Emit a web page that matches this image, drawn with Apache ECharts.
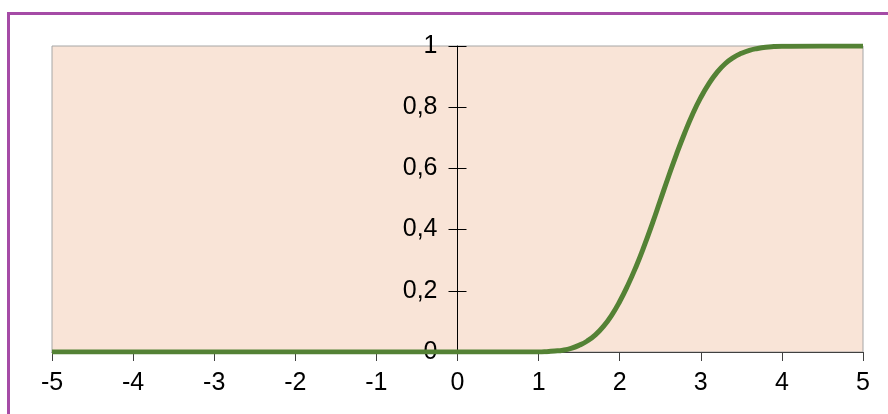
<!DOCTYPE html>
<html>
<head>
<meta charset="utf-8">
<script src="https://cdn.jsdelivr.net/npm/echarts@6/dist/echarts.min.js"></script>
<style>
html,body{margin:0;padding:0;background:#fff;}
#chart{width:888px;height:414px;}
</style>
</head>
<body>
<div id="chart"></div>
<script>
// Data
const xValues = [-5, -4, -3, -2, -1, 0, 1.0, 1.1, 1.2, 1.3, 1.4, 1.5, 1.6, 1.7, 1.8, 1.9, 2.0, 2.1, 2.2, 2.3, 2.4, 2.5, 2.6, 2.7, 2.8, 2.9, 3.0, 3.1, 3.2, 3.3, 3.4, 3.5, 3.6, 3.7, 3.8, 3.9, 4.0, 4.5, 5];
const yValues = [0, 0, 0, 0, 0, 0, 0.000, 0.001, 0.003, 0.006, 0.012, 0.022, 0.036, 0.056, 0.084, 0.120, 0.165, 0.218, 0.278, 0.345, 0.418, 0.495, 0.572, 0.646, 0.715, 0.778, 0.832, 0.877, 0.914, 0.942, 0.962, 0.976, 0.986, 0.992, 0.996, 0.998, 0.999, 1, 1];
const xTicks = [-5, -4, -3, -2, -1, 0, 1, 2, 3, 4, 5];
const yTicks = [0, 0.2, 0.4, 0.6, 0.8, 1];

const gridLeft = 52, gridRight = 25, W = 888;
const plotW = W - gridLeft - gridRight;
const zeroOffset = -plotW * (0 - xTicks[0]) / (xTicks[xTicks.length - 1] - xTicks[0]);

const chart = echarts.init(document.getElementById('chart'), null, {renderer: 'canvas'});
const font = '"Liberation Sans", Arial, sans-serif';
const fmtY = v => String(Math.round(v * 10) / 10).replace('.', ',');

chart.setOption({
  animation: false,
  backgroundColor: '#ffffff',
  grid: {
    left: gridLeft, right: gridRight, top: 46, bottom: 62,
    show: true,
    backgroundColor: '#F9E4D7',
    borderColor: '#A6A6A6',
    borderWidth: 1
  },
  xAxis: {
    type: 'value',
    min: xTicks[0], max: xTicks[xTicks.length - 1], interval: 1,
    splitLine: {show: false},
    axisLine: {show: true, onZero: true, lineStyle: {color: '#404040', width: 1}},
    axisTick: {show: true, length: 9, lineStyle: {color: '#404040'}},
    axisLabel: {fontFamily: font, fontSize: 25, color: '#000', margin: 19}
  },
  yAxis: [{
    type: 'value',
    min: yTicks[0], max: yTicks[yTicks.length - 1], interval: 0.2,
    position: 'left', offset: zeroOffset,
    splitLine: {show: false},
    axisLine: {show: true, onZero: false, lineStyle: {color: '#000', width: 1}},
    axisTick: {show: true, length: 9, lineStyle: {color: '#000'}},
    axisLabel: {fontFamily: font, fontSize: 25, color: '#000', margin: 20, formatter: fmtY}
  }, {
    type: 'value',
    min: yTicks[0], max: yTicks[yTicks.length - 1], interval: 0.2,
    position: 'left', offset: zeroOffset,
    splitLine: {show: false},
    axisLine: {show: false, onZero: false},
    axisTick: {show: true, inside: true, length: 9, lineStyle: {color: '#000'}},
    axisLabel: {show: false}
  }],
  series: [{
    type: 'line',
    data: xValues.map((x, i) => [x, yValues[i]]),
    smooth: true,
    showSymbol: false,
    lineStyle: {color: '#548235', width: 5},
    z: 3
  }],
  graphic: [
    {type: 'rect', shape: {x: 7, y: 12, width: 881, height: 3}, style: {fill: '#A54BA6'}, z: 100},
    {type: 'rect', shape: {x: 7, y: 12, width: 3, height: 402}, style: {fill: '#A54BA6'}, z: 100}
  ]
});
</script>
</body>
</html>
